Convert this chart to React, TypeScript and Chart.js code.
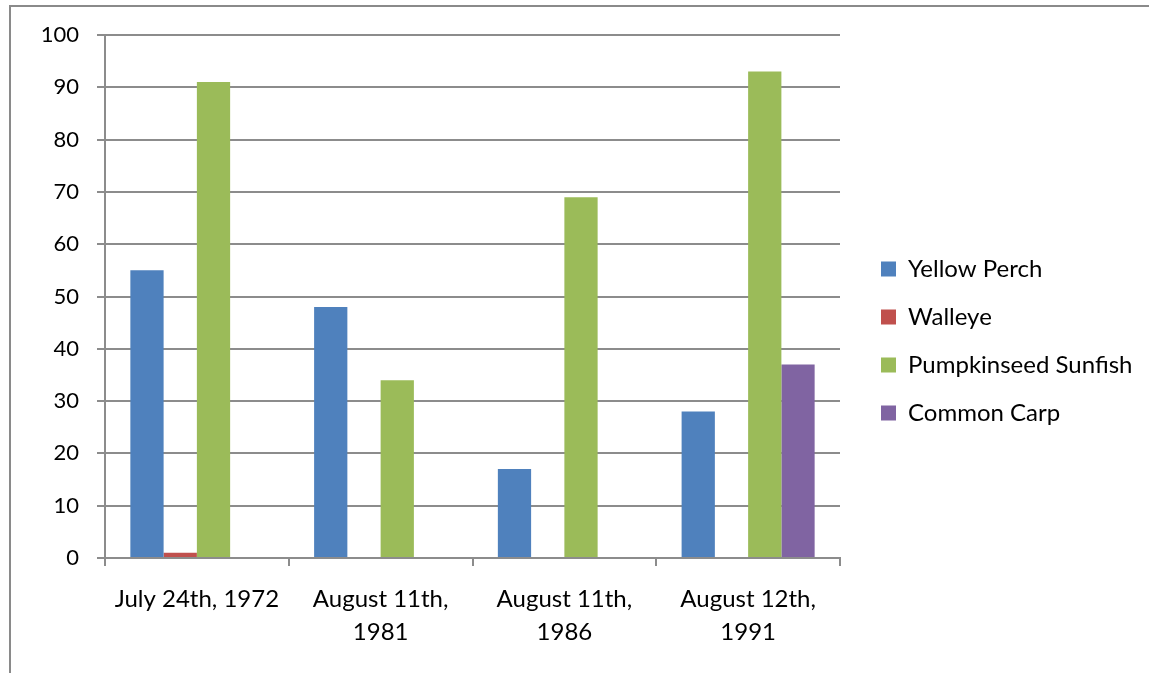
import { useEffect, useRef } from 'react';
import { Chart, registerables } from 'chart.js';

Chart.register(...registerables);

const categories: (string | string[])[] = [
  'July 24th, 1972',
  ['August 11th,', '1981'],
  ['August 11th,', '1986'],
  ['August 12th,', '1991'],
];

const seriesNames = ['Yellow Perch', 'Walleye', 'Pumpkinseed Sunfish', 'Common Carp'];
const yellowPerch = [55, 48, 17, 28];
const walleye = [1, 0, 0, 0];
const pumpkinseed = [91, 34, 69, 93];
const commonCarp = [0, 0, 0, 37];
const seriesColors = ['#4F81BD', '#C0504D', '#9BBB59', '#8064A2'];

const yMin = 0;
const yMax = 100;
const yStep = 10;

const W = 1149;
const H = 673;
const GRID = '#8c8c8c';
const FAMILY = 'Lato';
const TICK_SIZE = 22;
const TEXT_SIZE = 24;
const LEGEND_PAD = 24;
const BOX = 15;
const LEGEND_LEFT = 857;
const CHART_RIGHT = 840;

export default function App() {
  const ref = useRef<HTMLCanvasElement | null>(null);

  useEffect(() => {
    if (!ref.current) return;
    const ctx = ref.current.getContext('2d')!;
    ctx.font = `normal ${TEXT_SIZE}px ${FAMILY}`;
    const maxText = Math.max(...seriesNames.map((n) => ctx.measureText(n).width));
    const legendWidth = LEGEND_PAD + BOX + TEXT_SIZE / 2 + maxText + 10;
    const padRight = W - LEGEND_LEFT - legendWidth;

    const values = [yellowPerch, walleye, pumpkinseed, commonCarp];
    const chart = new Chart(ref.current, {
      type: 'bar',
      data: {
        labels: categories,
        datasets: values.map((v, i) => ({
          label: seriesNames[i],
          data: v,
          backgroundColor: seriesColors[i],
          borderWidth: 0,
          categoryPercentage: 0.724,
          barPercentage: 1,
          yAxisID: 'y',
          xAxisID: 'x',
        })),
      },
      options: {
        responsive: false,
        animation: false,
        devicePixelRatio: 1,
        layout: { padding: { left: 0, top: 35, right: padRight, bottom: 26 } },
        plugins: {
          tooltip: { enabled: false },
          legend: {
            position: 'right',
            align: 'center',
            maxWidth: 1000,
            labels: {
              boxWidth: BOX,
              boxHeight: BOX,
              padding: LEGEND_PAD,
              color: '#000',
              font: { family: FAMILY, size: TEXT_SIZE },
            },
          },
        },
        scales: {
          x: {
            type: 'category',
            offset: true,
            grid: {
              display: true,
              offset: true,
              drawOnChartArea: false,
              drawTicks: true,
              tickLength: 8,
              color: GRID,
              lineWidth: 2,
            },
            border: { display: true, color: GRID, width: 2 },
            ticks: {
              color: '#000',
              font: { family: FAMILY, size: TEXT_SIZE, lineHeight: 1.375 },
              padding: 17,
              autoSkip: false,
              maxRotation: 0,
              minRotation: 0,
            },
            afterFit: (s: any) => {
              s.height = 89;
            },
          },
          y: {
            type: 'linear',
            position: 'left',
            min: yMin,
            max: yMax,
            ticks: {
              stepSize: yStep,
              color: '#000',
              font: { family: FAMILY, size: TICK_SIZE },
              padding: 18,
            },
            grid: {
              color: GRID,
              lineWidth: 2,
              tickLength: 8,
              drawTicks: true,
            },
            border: { display: true, color: GRID, width: 2 },
            afterFit: (s: any) => {
              s.width = 105;
            },
          },
          spacer: {
            type: 'linear',
            position: 'right',
            display: true,
            grid: { display: false, drawTicks: false },
            ticks: { display: false },
            border: { display: false },
            afterFit: (s: any) => {
              s.width = LEGEND_LEFT - CHART_RIGHT;
            },
          },
        },
      },
    } as any);
    return () => chart.destroy();
  }, []);

  return (
    <div style={{ position: 'fixed', left: 0, top: 0, width: W, height: H, background: '#fff', overflow: 'hidden' }}>
      <div
        style={{
          position: 'absolute',
          left: 9,
          top: 5,
          width: W + 20,
          height: H + 20,
          border: '2px solid #8a8a8a',
          boxSizing: 'border-box',
        }}
      />
      <canvas
        ref={ref}
        width={W}
        height={H}
        style={{ position: 'absolute', left: 0, top: 0, width: W, height: H }}
      />
    </div>
  );
}
